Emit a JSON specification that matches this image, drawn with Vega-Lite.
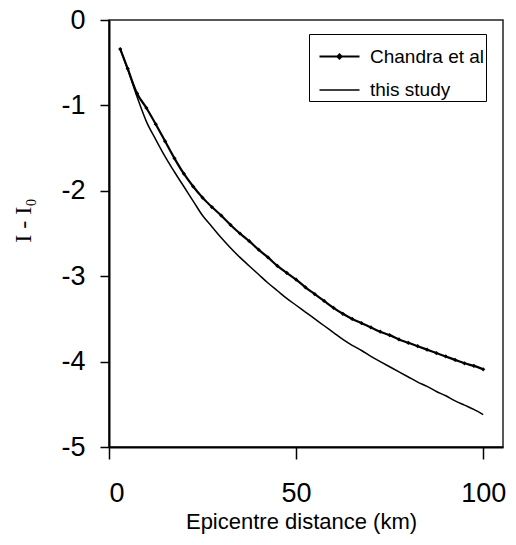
{
  "$schema": "https://vega.github.io/schema/vega-lite/v6.json",
  "width": 394,
  "height": 427,
  "autosize": "none",
  "padding": {"left": 109, "top": 20, "right": 13, "bottom": 98},
  "background": "white",
  "config": {
    "view": {"stroke": "#222", "strokeWidth": 1.5},
    "font": "Liberation Sans",
    "axis": {"grid": false, "domainColor": "black", "domainWidth": 2, "tickColor": "black", "tickWidth": 1.5, "labelColor": "black", "titleColor": "black", "labelFont": "Liberation Sans", "titleFontWeight": "normal"}
  },
  "data": {
    "values": [
      {"series": "Chandra et al", "distance": 3, "value": -0.34},
      {"series": "Chandra et al", "distance": 5, "value": -0.57},
      {"series": "Chandra et al", "distance": 7.5, "value": -0.86},
      {"series": "Chandra et al", "distance": 10, "value": -1.03},
      {"series": "Chandra et al", "distance": 12.5, "value": -1.22},
      {"series": "Chandra et al", "distance": 15, "value": -1.42},
      {"series": "Chandra et al", "distance": 17.5, "value": -1.62},
      {"series": "Chandra et al", "distance": 20, "value": -1.8},
      {"series": "Chandra et al", "distance": 22.5, "value": -1.95},
      {"series": "Chandra et al", "distance": 25, "value": -2.08},
      {"series": "Chandra et al", "distance": 27.5, "value": -2.19},
      {"series": "Chandra et al", "distance": 30, "value": -2.29},
      {"series": "Chandra et al", "distance": 32.5, "value": -2.4},
      {"series": "Chandra et al", "distance": 35, "value": -2.5},
      {"series": "Chandra et al", "distance": 37.5, "value": -2.59},
      {"series": "Chandra et al", "distance": 40, "value": -2.69},
      {"series": "Chandra et al", "distance": 42.5, "value": -2.78},
      {"series": "Chandra et al", "distance": 45, "value": -2.88},
      {"series": "Chandra et al", "distance": 47.5, "value": -2.96},
      {"series": "Chandra et al", "distance": 50, "value": -3.04},
      {"series": "Chandra et al", "distance": 52.5, "value": -3.13},
      {"series": "Chandra et al", "distance": 55, "value": -3.21},
      {"series": "Chandra et al", "distance": 57.5, "value": -3.29},
      {"series": "Chandra et al", "distance": 60, "value": -3.37},
      {"series": "Chandra et al", "distance": 62.5, "value": -3.44},
      {"series": "Chandra et al", "distance": 65, "value": -3.5},
      {"series": "Chandra et al", "distance": 67.5, "value": -3.55},
      {"series": "Chandra et al", "distance": 70, "value": -3.6},
      {"series": "Chandra et al", "distance": 72.5, "value": -3.65},
      {"series": "Chandra et al", "distance": 75, "value": -3.69},
      {"series": "Chandra et al", "distance": 77.5, "value": -3.74},
      {"series": "Chandra et al", "distance": 80, "value": -3.78},
      {"series": "Chandra et al", "distance": 82.5, "value": -3.82},
      {"series": "Chandra et al", "distance": 85, "value": -3.86},
      {"series": "Chandra et al", "distance": 87.5, "value": -3.9},
      {"series": "Chandra et al", "distance": 90, "value": -3.94},
      {"series": "Chandra et al", "distance": 92.5, "value": -3.98},
      {"series": "Chandra et al", "distance": 95, "value": -4.02},
      {"series": "Chandra et al", "distance": 97.5, "value": -4.05},
      {"series": "Chandra et al", "distance": 100, "value": -4.09},
      {"series": "this study", "distance": 3, "value": -0.34},
      {"series": "this study", "distance": 5, "value": -0.58},
      {"series": "this study", "distance": 7.5, "value": -0.9},
      {"series": "this study", "distance": 10, "value": -1.19},
      {"series": "this study", "distance": 12.5, "value": -1.4},
      {"series": "this study", "distance": 15, "value": -1.6},
      {"series": "this study", "distance": 17.5, "value": -1.78},
      {"series": "this study", "distance": 20, "value": -1.95},
      {"series": "this study", "distance": 22.5, "value": -2.12},
      {"series": "this study", "distance": 25, "value": -2.29},
      {"series": "this study", "distance": 27.5, "value": -2.42},
      {"series": "this study", "distance": 30, "value": -2.55},
      {"series": "this study", "distance": 32.5, "value": -2.67},
      {"series": "this study", "distance": 35, "value": -2.78},
      {"series": "this study", "distance": 37.5, "value": -2.88},
      {"series": "this study", "distance": 40, "value": -2.98},
      {"series": "this study", "distance": 42.5, "value": -3.08},
      {"series": "this study", "distance": 45, "value": -3.17},
      {"series": "this study", "distance": 47.5, "value": -3.26},
      {"series": "this study", "distance": 50, "value": -3.34},
      {"series": "this study", "distance": 52.5, "value": -3.42},
      {"series": "this study", "distance": 55, "value": -3.5},
      {"series": "this study", "distance": 57.5, "value": -3.58},
      {"series": "this study", "distance": 60, "value": -3.66},
      {"series": "this study", "distance": 62.5, "value": -3.74},
      {"series": "this study", "distance": 65, "value": -3.81},
      {"series": "this study", "distance": 67.5, "value": -3.87},
      {"series": "this study", "distance": 70, "value": -3.94},
      {"series": "this study", "distance": 72.5, "value": -4.0},
      {"series": "this study", "distance": 75, "value": -4.06},
      {"series": "this study", "distance": 77.5, "value": -4.12},
      {"series": "this study", "distance": 80, "value": -4.18},
      {"series": "this study", "distance": 82.5, "value": -4.24},
      {"series": "this study", "distance": 85, "value": -4.29},
      {"series": "this study", "distance": 87.5, "value": -4.35},
      {"series": "this study", "distance": 90, "value": -4.4},
      {"series": "this study", "distance": 92.5, "value": -4.46},
      {"series": "this study", "distance": 95, "value": -4.51},
      {"series": "this study", "distance": 97.5, "value": -4.56},
      {"series": "this study", "distance": 100, "value": -4.62}
    ]
  },
  "layer": [
    {
      "mark": {"type": "line", "interpolate": "monotone"},
      "encoding": {
        "x": {
          "field": "distance", "type": "quantitative",
          "scale": {"domain": [0, 105.3], "nice": false, "zero": false},
          "axis": {
            "values": [0, 50, 100], "tickSize": 12, "labelFontSize": 27, "labelPadding": 21,
            "labelExpr": "'' + datum.value",
            "title": "Epicentre distance (km)", "titleFontSize": 22,
            "titleX": 192, "titleY": 74, "titleBaseline": "middle", "titleAlign": "center"
          }
        },
        "y": {
          "field": "value", "type": "quantitative",
          "scale": {"domain": [-5, 0], "nice": false, "zero": false},
          "axis": {
            "values": [-5, -4, -3, -2, -1, 0], "tickSize": 9, "labelFontSize": 27, "labelPadding": 15,
            "labelExpr": "'' + datum.value",
            "title": "I - I₀", "titleFont": "Liberation Serif", "titleFontSize": 24,
            "titleAngle": -90, "titleX": -86, "titleY": 200, "titleBaseline": "middle", "titleAlign": "center"
          }
        },
        "strokeWidth": {
          "field": "series", "type": "nominal",
          "scale": {"domain": ["Chandra et al", "this study"], "range": [2.2, 1.5]},
          "legend": null
        },
        "color": {
          "field": "series", "type": "nominal",
          "scale": {"domain": ["Chandra et al", "this study"], "range": ["black", "black"]},
          "legend": {
            "title": null, "orient": "none", "legendX": 200, "legendY": 14,
            "direction": "vertical",
            "strokeColor": "black", "fillColor": "white", "padding": 1,
            "symbolOffset": 8,
            "labelFontSize": 19, "labelFont": "Liberation Sans", "labelColor": "black", "labelOffset": 9,
            "symbolSize": 1600, "symbolStrokeWidth": 1.5, "symbolStrokeColor": "black", "symbolFillColor": "black",
            "rowPadding": 2,
            "encode": {
              "symbols": {
                "update": {
                  "shape": {"signal": "datum.value === 'Chandra et al' ? 'M-1,0H1M-0.1,0L0,-0.1L0.1,0L0,0.1Z' : 'M-1,0H1'"},
                  "stroke": {"value": "black"},
                  "fill": {"value": "black"}
                }
              }
            }
          }
        }
      }
    },
    {
      "transform": [{"filter": "datum.series === 'Chandra et al'"}],
      "mark": {"type": "point", "filled": true, "color": "black", "size": 18, "opacity": 1, "shape": "diamond"},
      "encoding": {
        "x": {"field": "distance", "type": "quantitative"},
        "y": {"field": "value", "type": "quantitative"}
      }
    }
  ]
}
